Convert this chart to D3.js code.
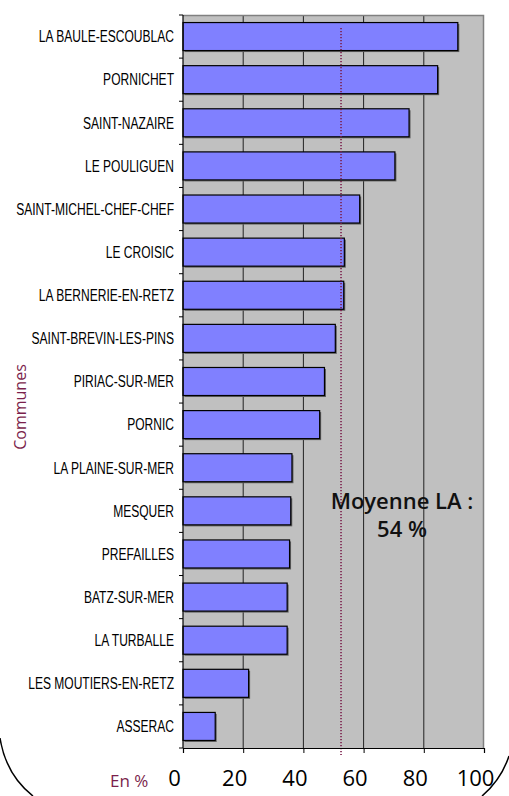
<!DOCTYPE html>
<html lang="fr">
<head>
    <meta charset="UTF-8">
    <title>Communes - En %</title>
    <script src="https://d3js.org/d3.v7.min.js"></script>
    <style>
        body {
            margin: 0;
            background: #fff;
            overflow: hidden;
        }
        .cat-label {
            font-family: "Liberation Sans", Arial, sans-serif;
            font-size: 16.5px;
            fill: #000;
        }
        .x-axis text {
            font-family: "Open Sans", sans-serif;
            font-size: 22px;
            fill: #000;
        }
    </style>
</head>
<body>
    <div id="chart"></div>

    <script>
        // Communes, from top to bottom
        const communes = [
            "LA BAULE-ESCOUBLAC", "PORNICHET", "SAINT-NAZAIRE", "LE POULIGUEN",
            "SAINT-MICHEL-CHEF-CHEF", "LE CROISIC", "LA BERNERIE-EN-RETZ",
            "SAINT-BREVIN-LES-PINS", "PIRIAC-SUR-MER", "PORNIC", "LA PLAINE-SUR-MER",
            "MESQUER", "PREFAILLES", "BATZ-SUR-MER", "LA TURBALLE",
            "LES MOUTIERS-EN-RETZ", "ASSERAC"
        ];
        // Values in %
        const valeurs = [
            91.3, 84.6, 75.1, 70.4, 58.7, 53.6, 53.4, 50.6, 47.0, 45.4,
            36.2, 35.8, 35.4, 34.6, 34.6, 21.8, 10.7
        ];
        const xTicks = [0, 20, 40, 60, 80, 100];
        // position of the dotted mean line, and its caption
        const moyenneLigne = 52.5;
        const moyenneTexte = ["Moyenne LA :", "54 %"];

        const width = 509, height = 796;
        const margin = { top: 15, right: 25, bottom: 48, left: 183 };
        const innerW = width - margin.left - margin.right;
        const innerH = height - margin.top - margin.bottom;
        const maroon = "#7b1f4c";

        const svg = d3.select("#chart").append("svg")
            .attr("width", width)
            .attr("height", height);

        const g = svg.append("g")
            .attr("transform", `translate(${margin.left},${margin.top})`);

        const x = d3.scaleLinear().domain([0, 100]).range([0, innerW]);
        const y = d3.scaleBand()
            .domain(communes)
            .range([0, innerH])
            .paddingInner(0.35)
            .paddingOuter(0.175);

        // plot background
        g.append("rect")
            .attr("width", innerW)
            .attr("height", innerH)
            .attr("fill", "#c0c0c0");

        // vertical gridlines
        g.append("g")
            .selectAll("line")
            .data(xTicks.filter(t => t > 0 && t < 100))
            .join("line")
            .attr("x1", d => x(d))
            .attr("x2", d => x(d))
            .attr("y1", 0)
            .attr("y2", innerH)
            .attr("stroke", "#222")
            .attr("stroke-width", 1);

        // top and right border
        g.append("path")
            .attr("d", `M0,0.5H${innerW - 0.5}V${innerH}`)
            .attr("fill", "none")
            .attr("stroke", "#808080")
            .attr("stroke-width", 1.5);

        const data = communes.map((c, i) => ({ commune: c, valeur: valeurs[i] }));

        // bar shadows
        g.append("g")
            .selectAll("rect")
            .data(data)
            .join("rect")
            .attr("x", 1.5)
            .attr("y", d => y(d.commune) + 1.5)
            .attr("width", d => x(d.valeur))
            .attr("height", y.bandwidth())
            .attr("fill", "#606060");

        // bars
        g.append("g")
            .selectAll("rect")
            .data(data)
            .join("rect")
            .attr("x", 0)
            .attr("y", d => y(d.commune))
            .attr("width", d => x(d.valeur))
            .attr("height", y.bandwidth())
            .attr("fill", "#8080ff")
            .attr("stroke", "#000")
            .attr("stroke-width", 1.2);

        // mean dotted line
        g.append("line")
            .attr("x1", x(moyenneLigne))
            .attr("x2", x(moyenneLigne))
            .attr("y1", 13)
            .attr("y2", innerH + 7)
            .attr("stroke", maroon)
            .attr("stroke-width", 1.6)
            .attr("stroke-dasharray", "1.2,1.8");

        // mean caption
        g.append("text")
            .attr("x", 219)
            .attr("y", 494)
            .attr("text-anchor", "middle")
            .style("font-family", "'Open Sans', sans-serif")
            .style("font-size", "22px")
            .style("font-weight", 600)
            .style("fill", "#111")
            .selectAll("tspan")
            .data(moyenneTexte)
            .join("tspan")
            .attr("x", 219)
            .attr("dy", (d, i) => i === 0 ? 0 : 28)
            .text(d => d);

        // left axis: tick marks at band boundaries
        const bounds = d3.range(communes.length + 1).map(i => i * y.step());
        g.append("line")
            .attr("x1", 0).attr("x2", 0)
            .attr("y1", 0).attr("y2", innerH)
            .attr("stroke", "#000")
            .attr("stroke-width", 1.2);
        g.append("g")
            .selectAll("line")
            .data(bounds)
            .join("line")
            .attr("x1", -4).attr("x2", 0)
            .attr("y1", d => d).attr("y2", d => d)
            .attr("stroke", "#000");

        // category labels (narrow lettering)
        const labels = svg.append("g")
            .attr("transform", `translate(174,${margin.top}) scale(0.73,1)`);
        labels.selectAll("text")
            .data(communes)
            .join("text")
            .attr("class", "cat-label")
            .attr("x", 0)
            .attr("y", d => y(d) + y.bandwidth() / 2)
            .attr("dy", "0.35em")
            .attr("text-anchor", "end")
            .text(d => d);

        // bottom axis
        const xAxis = g.append("g")
            .attr("class", "x-axis")
            .attr("transform", `translate(0,${innerH})`)
            .call(d3.axisBottom(x).tickValues(xTicks).tickSize(5).tickPadding(25));
        xAxis.select(".domain").attr("stroke", "#000").attr("stroke-width", 1.2);
        xAxis.selectAll(".tick line").attr("stroke", "#000");
        xAxis.selectAll(".tick text").attr("dx", -9).attr("dy", "0.35em");

        // axis titles
        svg.append("text")
            .attr("transform", "translate(26,407) rotate(-90)")
            .attr("text-anchor", "middle")
            .style("font-family", "'Open Sans', sans-serif")
            .style("font-size", "16px")
            .style("fill", maroon)
            .text("Communes");

        svg.append("text")
            .attr("x", 110)
            .attr("y", 787)
            .style("font-family", "'Open Sans', sans-serif")
            .style("font-size", "17px")
            .style("fill", maroon)
            .text("En %");

        // rounded frame corners
        svg.append("path")
            .attr("d", "M0,738 Q6,775 33,796")
            .attr("fill", "none")
            .attr("stroke", "#000")
            .attr("stroke-width", 1.5);
        svg.append("path")
            .attr("d", "M509,756 Q501,780 482,796")
            .attr("fill", "none")
            .attr("stroke", "#000")
            .attr("stroke-width", 1.5);
    </script>
</body>
</html>
